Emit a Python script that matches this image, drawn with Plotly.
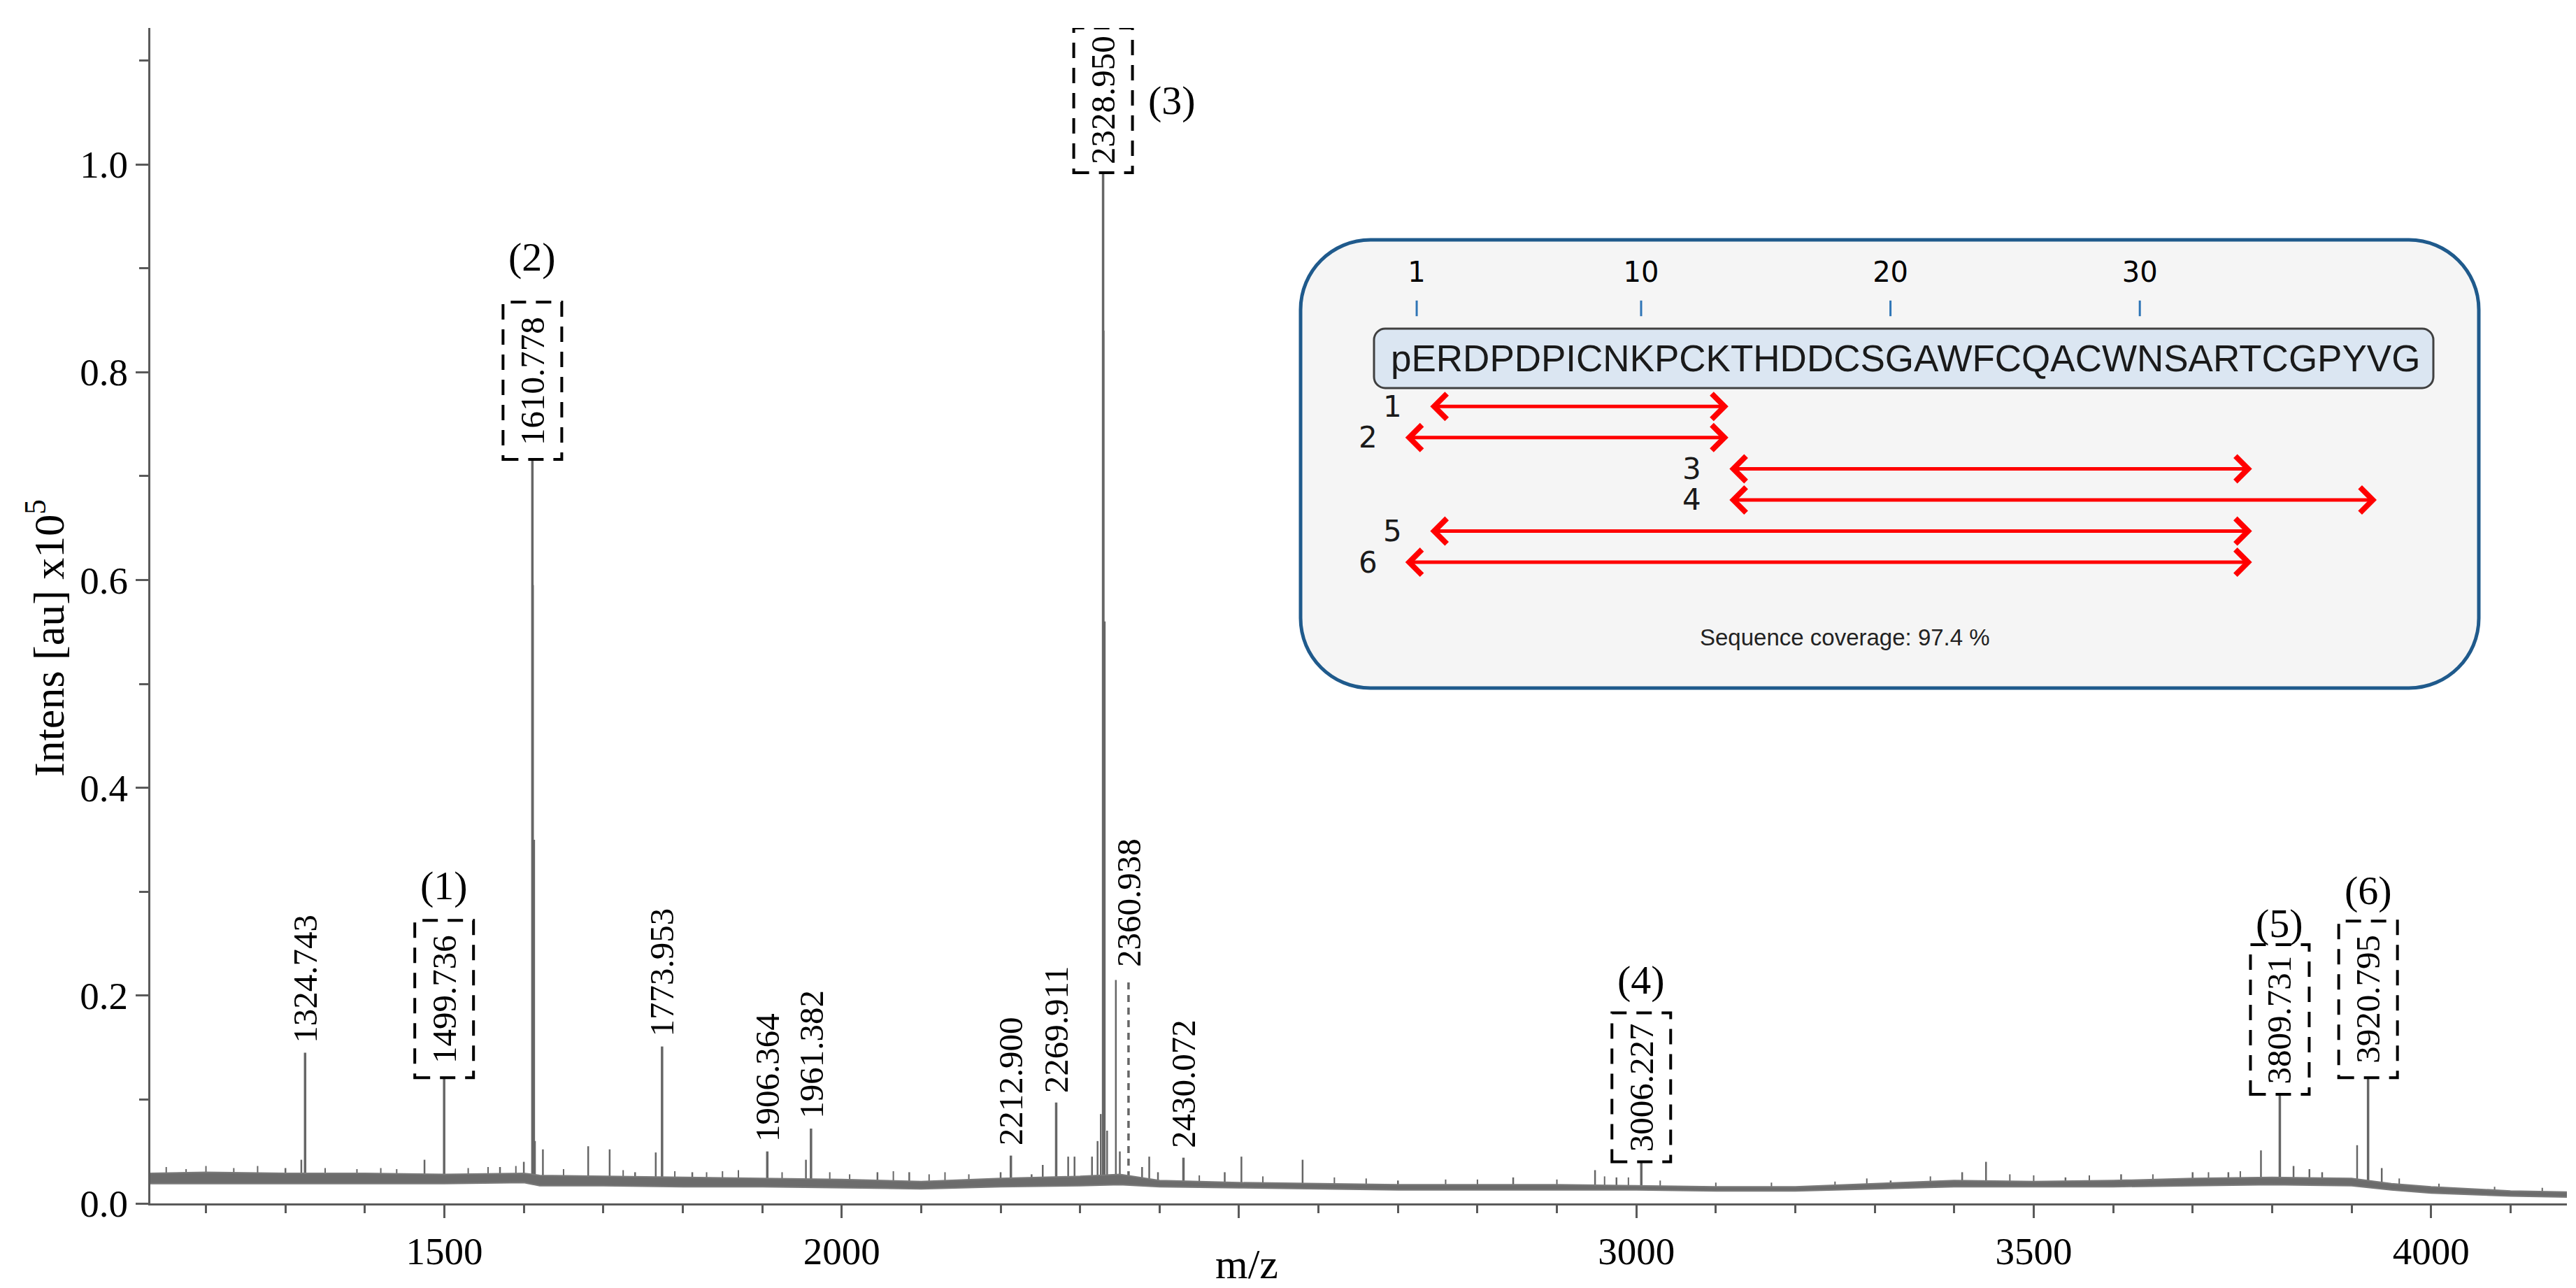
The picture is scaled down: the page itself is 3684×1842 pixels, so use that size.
import plotly.graph_objects as go

# ---- spectrum data (intensity in units of 1e5 au) ----
# labelled peaks
peak_mz = [1324.743, 1499.736, 1610.778, 1773.953, 1906.364, 1961.382,
           2212.900, 2269.911, 2328.950, 2360.938, 2430.072, 3006.227,
           3809.731, 3920.795]
peak_int = [0.145, 0.121, 0.716, 0.151, 0.050, 0.072,
            0.046, 0.097, 0.992, 0.218, 0.044, 0.040,
            0.105, 0.121]
# fragment number of the boxed peaks (0 = plain label)
peak_frag = [0, 1, 2, 0, 0, 0, 0, 0, 3, 0, 0, 4, 5, 6]

# unlabelled peaks
minor_mz = [1300, 1320, 1475, 1570, 1600, 1611.5, 1613, 1614, 1624, 1681,
            1708, 1740, 1766, 1812, 1955, 2045, 2085, 2200, 2239, 2253,
            2285, 2293, 2315, 2322, 2326, 2329.6, 2331, 2334, 2345, 2350,
            2378, 2387, 2398, 2482, 2503, 2580, 2700, 2845, 2948, 2975,
            3320, 3410, 3440, 3540, 3610, 3700, 3745, 3786, 3827, 3847,
            3863, 3907, 3938]
minor_int = [0.034, 0.042, 0.042, 0.035, 0.040, 0.595, 0.350, 0.060, 0.052, 0.055,
             0.052, 0.030, 0.049, 0.030, 0.042, 0.030, 0.030, 0.030, 0.028, 0.037,
             0.045, 0.045, 0.045, 0.060, 0.086, 0.840, 0.560, 0.070, 0.215, 0.050,
             0.035, 0.045, 0.030, 0.030, 0.045, 0.042, 0.022, 0.025, 0.032, 0.025,
             0.022, 0.030, 0.040, 0.025, 0.028, 0.030, 0.030, 0.051, 0.036, 0.033,
             0.030, 0.056, 0.034]

# small noise spikes on the baseline
spike_mz = [1150, 1175, 1200, 1235, 1265, 1350, 1390, 1420, 1440, 1530,
            1555, 1590, 1650, 1725, 1790, 1830, 1850, 1870, 1925, 1985,
            2010, 2065, 2110, 2130, 2160, 2450, 2530, 2620, 2660, 2760,
            2800, 2900, 2960, 2990, 3030, 3100, 3170, 3250, 3290, 3370,
            3470, 3500, 3570, 3650, 3720, 3760, 3960, 4010, 4080, 4140]
spike_int = [0.035, 0.033, 0.036, 0.034, 0.036, 0.034, 0.033, 0.034, 0.033, 0.034,
             0.035, 0.036, 0.033, 0.032, 0.031, 0.030, 0.031, 0.032, 0.030, 0.030,
             0.028, 0.031, 0.028, 0.030, 0.028, 0.027, 0.026, 0.025, 0.024, 0.023,
             0.023, 0.023, 0.026, 0.025, 0.022, 0.020, 0.020, 0.021, 0.024, 0.026,
             0.028, 0.027, 0.027, 0.028, 0.030, 0.031, 0.024, 0.019, 0.016, 0.015]

# noise band of the baseline (lower / upper edge)
base_mz = [1130, 1200, 1300, 1400, 1500, 1600, 1620, 1700, 1800, 1900,
           2000, 2100, 2200, 2300, 2350, 2400, 2500, 2600, 2700, 2800,
           2900, 3000, 3100, 3200, 3300, 3400, 3500, 3600, 3700, 3800,
           3900, 3950, 4000, 4100, 4171]
base_lo = [0.019, 0.019, 0.019, 0.019, 0.019, 0.020, 0.017, 0.017, 0.016, 0.016,
           0.015, 0.014, 0.016, 0.017, 0.018, 0.016, 0.015, 0.014, 0.013, 0.013,
           0.013, 0.013, 0.012, 0.012, 0.014, 0.016, 0.016, 0.016, 0.017, 0.018,
           0.017, 0.013, 0.010, 0.007, 0.006]
base_hi = [0.029, 0.030, 0.029, 0.029, 0.028, 0.029, 0.027, 0.026, 0.025, 0.024,
           0.023, 0.021, 0.024, 0.026, 0.028, 0.022, 0.020, 0.019, 0.018, 0.018,
           0.018, 0.017, 0.016, 0.016, 0.019, 0.022, 0.021, 0.022, 0.024, 0.025,
           0.024, 0.019, 0.016, 0.012, 0.011]

# ---- inset data ----
sequence = "pERDPDPICNKPCKTHDDCSGAWFCQACWNSARTCGPYVG"
res_marks = [1, 10, 20, 30]
frag_id = [1, 2, 3, 4, 5, 6]
frag_start = [2, 1, 14, 14, 2, 1]
frag_end = [13, 13, 34, 39, 34, 34]
coverage = 97.4

GRAY = "#666666"
SERIF = "Liberation Serif"

# plot area in pixels of the 3684 x 1842 page
L, R, T, B = 207, 3663, 32, 1713
W, H = R - L, B - T


def px(x):
    return (x - L) / W


def py(y):
    return (B - y) / H


def sticks(mz, inten):
    xs, ys = [], []
    for m, h in zip(mz, inten):
        xs += [m, m, None]
        ys += [0, h, None]
    return xs, ys


fig = go.Figure()

nx, ny = sticks(spike_mz, spike_int)
fig.add_trace(go.Scatter(x=nx, y=ny, mode="lines", line=dict(color=GRAY, width=2)))
mx, my = sticks(minor_mz, minor_int)
fig.add_trace(go.Scatter(x=mx, y=my, mode="lines", line=dict(color=GRAY, width=2.5)))
solid = [(m, h) for m, h in zip(peak_mz, peak_int) if m != 2360.938]
sx, sy = sticks([s[0] for s in solid], [s[1] for s in solid])
fig.add_trace(go.Scatter(x=sx, y=sy, mode="lines", line=dict(color=GRAY, width=3.5)))
dx, dy = sticks([2360.938], [peak_int[peak_mz.index(2360.938)]])
fig.add_trace(go.Scatter(x=dx, y=dy, mode="lines",
                         line=dict(color=GRAY, width=3.5, dash="10px,8px")))
# baseline noise band
fig.add_trace(go.Scatter(x=base_mz, y=base_lo, mode="lines", fill="tozeroy",
                         fillcolor="white", line=dict(color="#7a7a7a", width=2)))
fig.add_trace(go.Scatter(x=base_mz, y=base_hi, mode="lines", fill="tonexty",
                         fillcolor="#6c6c6c", line=dict(color="#7a7a7a", width=2)))

# ---- peak labels ----
box_h = {1: 225, 2: 225, 3: 207, 4: 213, 5: 214, 6: 224}
paren_shift = {1: 50, 2: 65, 4: 47, 5: 30, 6: 44}
for m, h, f in zip(peak_mz, peak_int, peak_frag):
    txt = f"{m:.3f}"
    if f == 0:
        fig.add_annotation(x=m, y=h, text=txt, textangle=-90, showarrow=False,
                           xanchor="center", yanchor="bottom", yshift=12,
                           font=dict(family=SERIF, size=49, color="black"))
        continue
    bh = box_h[f]
    fig.add_shape(type="rect", xref="x", yref="y", xsizemode="pixel", ysizemode="pixel",
                  xanchor=m, yanchor=h, x0=-42, x1=42, y0=0, y1=bh,
                  line=dict(color="black", width=4, dash="22px,14px"))
    fig.add_annotation(x=m, y=h, text=txt, textangle=-90, showarrow=False,
                       xanchor="center", yanchor="middle", yshift=bh / 2,
                       font=dict(family=SERIF, size=49, color="black"))
    if f == 3:
        fig.add_annotation(x=m, y=h, text=f"({f})", showarrow=False, xanchor="center",
                           yanchor="middle", xshift=98, yshift=bh / 2,
                           font=dict(family=SERIF, size=58, color="black"))
    else:
        fig.add_annotation(x=m, y=h, text=f"({f})", showarrow=False, xanchor="center",
                           yanchor="middle", yshift=bh + paren_shift[f],
                           font=dict(family=SERIF, size=58, color="black"))

# ---- inset ----
ix0, iy0, ix1, iy1 = 1852, 335, 3537, 976
res_px0, res_step = 1982.4, 35.66      # pixel of residue coordinate 0, pixels per residue
row_px0, row_step = 528.7, 44.57       # pixel of row 0, pixels per row


def rounded(x0, y0, x1, y1, r):
    rx, ry = r / W, r / H
    a, b, c, d = px(x0), py(y1), px(x1), py(y0)
    k = 0.5523
    return (f"M{a+rx},{b} L{c-rx},{b} C{c-rx+k*rx},{b} {c},{b+ry-k*ry} {c},{b+ry} "
            f"L{c},{d-ry} C{c},{d-ry+k*ry} {c-rx+k*rx},{d} {c-rx},{d} "
            f"L{a+rx},{d} C{a+rx-k*rx},{d} {a},{d-ry+k*ry} {a},{d-ry} "
            f"L{a},{b+ry} C{a},{b+ry-k*ry} {a+rx-k*rx},{b} {a+rx},{b} Z")


fig.add_shape(type="path", xref="paper", yref="paper", layer="below",
              path=rounded(ix0, iy0, ix1, iy1, 100),
              fillcolor="#f5f5f5", line=dict(color="#1f5a8c", width=5))
fig.add_shape(type="path", xref="paper", yref="paper", layer="below",
              path=rounded(1957, 462, 3472, 547, 16),
              fillcolor="#dbe6f2", line=dict(color="#404040", width=3))
fig.add_annotation(xref="paper", yref="paper", x=px(2717), y=py(505), text=sequence,
                   showarrow=False, xanchor="center", yanchor="middle",
                   font=dict(family="Liberation Sans", size=53, color="#1a1a1a"))
fig.add_annotation(xref="paper", yref="paper", x=px(2630), y=py(903),
                   text=f"Sequence coverage: {coverage} %", showarrow=False,
                   xanchor="center", yanchor="middle",
                   font=dict(family="Liberation Sans", size=33, color="#222222"))

tick_row = (433 - row_px0) / row_step
num_row = (385 - row_px0) / row_step
fig.add_trace(go.Scatter(x=res_marks, y=[tick_row] * len(res_marks), mode="markers",
                         marker=dict(symbol="line-ns", size=16, line=dict(color="#2e75b6", width=3)),
                         xaxis="x2", yaxis="y2"))
fig.add_trace(go.Scatter(x=res_marks, y=[num_row] * len(res_marks), mode="text",
                         text=[str(r) for r in res_marks],
                         textfont=dict(family="DejaVu Sans", size=40, color="black"),
                         xaxis="x2", yaxis="y2"))

for fid, s, e in zip(frag_id, frag_start, frag_end):
    fig.add_annotation(xref="x2", yref="y2", axref="x2", ayref="y2",
                       x=e + 0.5, y=fid, ax=s - 0.5, ay=fid, text="",
                       showarrow=True, arrowside="end+start", arrowhead=4, startarrowhead=4,
                       arrowsize=1.4, startarrowsize=1.4, arrowwidth=5, arrowcolor="#ff0000")
    fig.add_annotation(xref="x2", yref="y2", x=s - 0.5, y=fid, text=str(fid),
                       showarrow=False, xshift=-52, xanchor="center", yanchor="middle",
                       borderpad=0,
                       font=dict(family="DejaVu Sans", size=42, color="#1a1a1a"))

# ---- axis titles ----
fig.add_annotation(xref="paper", yref="paper", x=px(57), y=py(905),
                   text="Intens [au] x10<sup>5</sup>", textangle=-90, showarrow=False,
                   xanchor="center", yanchor="middle",
                   font=dict(family=SERIF, size=62, color="black"))
fig.add_annotation(xref="x", yref="paper", x=2510, y=py(1800), text="m/z",
                   showarrow=False, xanchor="center", yanchor="middle",
                   font=dict(family=SERIF, size=60, color="black"))

axis_line = dict(showline=True, linecolor="#5a5a5a", linewidth=3, ticks="outside",
                 tickcolor="#5a5a5a", tickwidth=3, ticklen=18, showgrid=False,
                 zeroline=False, automargin=False,
                 tickfont=dict(family=SERIF, size=55, color="black"))

fig.update_layout(
    template="none",
    width=3684, height=1842,
    margin=dict(l=L, r=3684 - R, t=T, b=1842 - B),
    paper_bgcolor="white", plot_bgcolor="rgba(0,0,0,0)",
    showlegend=False,
    xaxis=dict(range=[1130, 4171], tickvals=[1500, 2000, 2500, 3000, 3500, 4000],
               ticktext=["1500", "2000", "", "3000", "3500", "4000"],
               minor=dict(dtick=100, tick0=0, ticks="outside", ticklen=11,
                          tickwidth=3, tickcolor="#5a5a5a"),
               **axis_line),
    yaxis=dict(range=[0, H / 1486], tickvals=[0, 0.2, 0.4, 0.6, 0.8, 1.0],
               tickformat=".1f",
               minor=dict(dtick=0.1, tick0=0, ticks="outside", ticklen=13,
                          tickwidth=3, tickcolor="#5a5a5a"),
               **axis_line),
    xaxis2=dict(domain=[px(ix0), px(ix1)], anchor="y2", visible=False,
                range=[(ix0 - res_px0) / res_step, (ix1 - res_px0) / res_step]),
    yaxis2=dict(domain=[py(iy1), py(iy0)], anchor="x2", visible=False,
                range=[(iy1 - row_px0) / row_step, (iy0 - row_px0) / row_step]),
)

fig.write_html("out.html")
